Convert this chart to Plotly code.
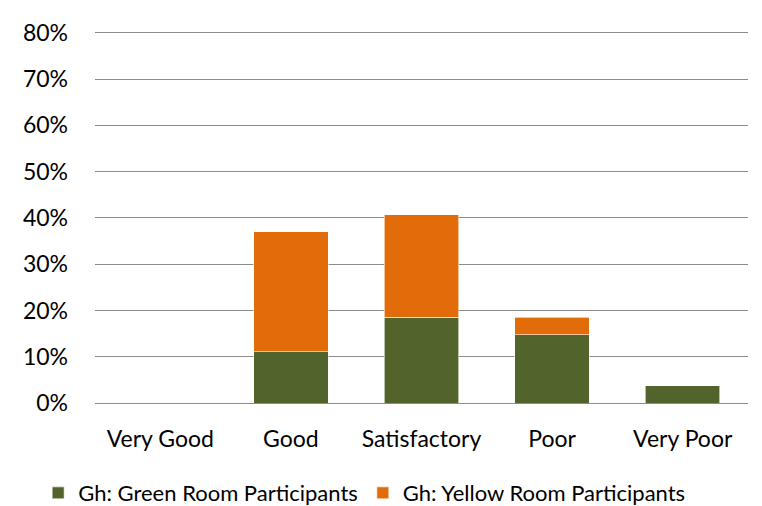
import plotly.graph_objects as go

categories = ["Very Good", "Good", "Satisfactory", "Poor", "Very Poor"]
green_room = [0.0, 11.1, 18.5, 14.8, 3.7]
yellow_room = [0.0, 25.9, 22.2, 3.7, 0.0]
y_ticks = [0, 10, 20, 30, 40, 50, 60, 70, 80]

FONT = "Lato, Calibri, sans-serif"

fig = go.Figure()
fig.add_trace(go.Bar(
    x=categories, y=green_room, name="Gh: Green Room Participants",
    marker=dict(color="#52632B", line=dict(color="rgba(255,255,255,0.6)", width=1)),
))
fig.add_trace(go.Bar(
    x=categories, y=yellow_room, name="Gh: Yellow Room Participants",
    marker=dict(color="#E36C0A", line=dict(color="rgba(255,255,255,0.6)", width=1)),
))

# page body has an 8px margin, so the figure is sized to fit inside it
fig.update_layout(
    barmode="stack",
    bargap=0.43,
    width=754, height=498,
    paper_bgcolor="white", plot_bgcolor="white",
    margin=dict(l=87, r=14, t=23, b=103, autoexpand=False),
    font=dict(family=FONT, size=23, color="#000000"),
    xaxis=dict(showgrid=False, ticks="", showline=False,
               ticklabelstandoff=20, automargin=False),
    yaxis=dict(
        range=[0, 80.4], tickvals=y_ticks,
        ticktext=[f"{v}%" for v in y_ticks],
        showgrid=True, gridcolor="#8C8C8C", gridwidth=1.3,
        zeroline=True, zerolinecolor="#8C8C8C", zerolinewidth=1.3,
        ticks="", ticklabelstandoff=26, automargin=False,
    ),
    legend=dict(
        orientation="h", xref="container", yref="container",
        x=0.04, xanchor="left", y=0.026, yanchor="middle",
        font=dict(size=22), itemwidth=30, traceorder="normal",
    ),
)

fig.write_html("out.html")
